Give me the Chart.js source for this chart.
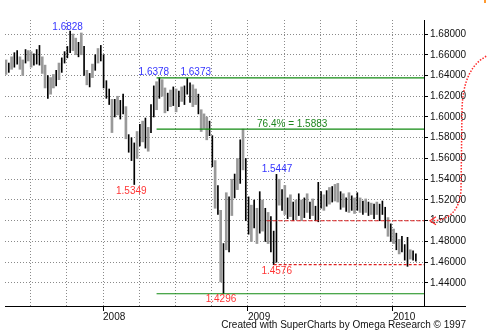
<!DOCTYPE html>
<html>
<head>
<meta charset="utf-8">
<script src="https://cdn.jsdelivr.net/npm/chart.js@4/dist/chart.umd.min.js"></script>
<style>
  html, body { margin: 0; padding: 0; background: #fff; }
  #wrap { width: 487px; height: 333px; position: relative; }
</style>
</head>
<body>
<div id="wrap"><canvas id="c" width="487" height="333"></canvas></div>
<script>
// ---- Data (weekly bars) ----
const firstWeek = 2007.331;          // decimal year of first weekly bar
const weekStep = 1 / 52;
const highs = [
  1.655,1.652,1.658,1.662,1.664,1.658,1.655,1.665,1.664,1.663,1.661,1.665,1.669,
  1.658,1.650,1.640,1.638,1.641,1.645,1.652,1.657,
  1.663,1.668,1.6828,1.680,1.676,1.672,1.681,
  1.668,1.645,1.642,1.651,1.660,1.666,1.669,
  1.660,1.635,1.627,1.617,1.617,1.620,1.616,1.622,1.610,1.583,1.580,1.575,
  1.586,1.593,1.596,1.599,1.590,1.612,1.630,1.634,1.6378,1.636,1.628,1.623,
  1.626,1.629,1.627,1.625,1.629,1.630,1.6373,1.633,1.631,1.627,1.622,
  1.607,1.603,1.600,1.596,1.582,1.558,1.534,1.510,1.478,1.527,1.523,
  1.540,1.545,1.560,1.578,1.5883,1.560,1.523,1.515,1.520,1.512,1.528,
  1.520,1.512,1.508,1.504,1.490,1.5447,1.540,1.530,1.534,1.522,1.525,
  1.518,1.520,1.526,1.520,1.522,1.526,1.518,1.521,1.514,1.537,1.528,
  1.525,1.529,1.532,1.533,1.535,1.536,1.528,1.526,1.522,1.527,1.524,
  1.522,1.527,1.522,1.519,1.521,1.518,1.517,1.516,1.518,1.516,1.519,
  1.513,1.503,1.497,1.492,1.488,1.482,1.485,1.477,1.484,1.472,1.471,1.468
];
const lows = [
  1.641,1.643,1.646,1.648,1.651,1.646,1.640,1.652,1.654,1.648,1.650,1.651,1.650,
  1.642,1.628,1.618,1.622,1.628,1.630,1.636,1.643,
  1.652,1.657,1.662,1.664,1.660,1.658,1.660,
  1.640,1.631,1.629,1.638,1.645,1.652,1.654,
  1.628,1.618,1.612,1.585,1.600,1.602,1.598,1.603,1.579,1.566,1.558,1.5349,
  1.560,1.572,1.576,1.570,1.567,1.585,1.600,1.607,1.618,1.620,1.604,1.606,
  1.610,1.611,1.605,1.610,1.615,1.612,1.622,1.614,1.610,1.612,1.603,
  1.586,1.589,1.578,1.582,1.552,1.512,1.506,1.441,1.4296,1.472,1.470,
  1.505,1.522,1.530,1.536,1.549,1.500,1.487,1.480,1.493,1.478,1.488,
  1.490,1.480,1.478,1.470,1.4576,1.460,1.515,1.510,1.506,1.502,1.504,
  1.500,1.501,1.505,1.500,1.503,1.508,1.502,1.505,1.500,1.499,1.512,
  1.510,1.514,1.516,1.518,1.519,1.518,1.511,1.513,1.509,1.508,1.510,
  1.507,1.510,1.508,1.506,1.508,1.505,1.506,1.502,1.506,1.500,1.506,
  1.493,1.485,1.480,1.478,1.472,1.468,1.470,1.462,1.456,1.463,1.462,1.461
];
// 1 = black bar, 0 = grey bar
const barShade = [
  0,1,0,1,1,0,0,1,0,0,1,1,1,
  0,0,1,0,0,1,0,1,
  1,1,1,0,0,1,0,
  1,0,1,0,1,0,1,
  1,1,1,0,1,0,1,1,0,1,1,1,
  0,1,0,1,0,1,1,0,1,0,0,1,
  0,1,0,1,0,1,1,1,0,0,1,
  0,0,0,1,1,0,1,0,1,0,1,
  0,1,0,1,0,1,1,0,1,0,1,
  0,1,0,1,1,1,0,1,0,1,0,
  1,0,1,0,1,0,1,0,1,1,1,
  0,1,0,1,0,0,1,0,1,0,1,
  0,1,0,1,0,1,0,1,0,1,1,
  1,0,1,0,1,0,1,1,1,0,1,1
];
const yTickValues = [1.44,1.46,1.48,1.50,1.52,1.54,1.56,1.58,1.60,1.62,1.64,1.66,1.68];
const quarterTicks = [2007.5,2007.75,2008,2008.25,2008.5,2008.75,2009,2009.25,2009.5,2009.75,2010];
const yearLabels = [2008, 2009, 2010];

// Levels: [value, starting bar index]
const levelGreenHigh = [1.6378, 54];
const levelFib = [1.5883, 54];
const levelGreenLow = [1.4296, 54];
const levelRed150 = [1.50, 93.5];
const levelRed1457 = [1.4576, 96];

// Price annotations: text, bar index, value
const priceNotes = [
  ['1.6828', 23, 1.6828],
  ['1.6378', 55, 1.6378],
  ['1.6373', 65, 1.6373],
  ['76.4% = 1.5883', 85, 1.5883],
  ['1.5349', 46, 1.5349],
  ['1.5447', 97, 1.5447],
  ['1.4576', 96, 1.4576],
  ['1.4296', 78, 1.4296]
];

// ---- Styling / layout ----
const X_MIN = 2007.324, X_MAX = 2010.214;
const Y_MIN = 1.4178, Y_MAX = 1.6935;
const BLUE = '#3434ff', RED = '#ff3535', GREEN = '#118a11', FIBGREEN = '#1f861f';
const noteStyle = [
  {color: BLUE, dx: -2.5, dy: -4, align: 'center'},
  {color: BLUE, dx: -5.5, dy: -6, align: 'center'},
  {color: BLUE, dx: 8.5, dy: -6, align: 'center'},
  {color: FIBGREEN, dx: 14, dy: -5, align: 'left'},
  {color: RED, dx: -3, dy: 6.5, align: 'center'},
  {color: BLUE, dx: 0.5, dy: -5.5, align: 'center'},
  {color: RED, dx: 3, dy: 7, align: 'center'},
  {color: RED, dx: -2.5, dy: 5.5, align: 'center'}
];
const FONT = '"Liberation Sans", Arial, sans-serif';

const xOf = i => firstWeek + i * weekStep;

const blackBars = [], greyBars = [];
highs.forEach((h, i) => {
  const pt = {x: xOf(i), y: [lows[i], h]};
  (barShade[i] ? blackBars : greyBars).push(pt);
});

function levelLine(level, color, dash) {
  return {
    type: 'line',
    data: [{x: xOf(level[1]), y: level[0]}, {x: X_MAX, y: level[0]}],
    borderColor: color, borderWidth: 1.2, borderDash: dash,
    pointRadius: 0, fill: false, order: 0
  };
}

const decor = {
  id: 'decor',
  afterDatasetsDraw(chart) {
    const ctx = chart.ctx, xs = chart.scales.x, ys = chart.scales.y;
    const ca = chart.chartArea;
    ctx.save();
    // bottom axis line extending past the price axis
    ctx.strokeStyle = '#000'; ctx.lineWidth = 1;
    ctx.beginPath(); ctx.moveTo(ca.left, ca.bottom + 0.5); ctx.lineTo(466, ca.bottom + 0.5); ctx.stroke();
    // price notes
    ctx.font = '10px ' + FONT;
    ctx.textBaseline = 'middle';
    priceNotes.forEach((n, k) => {
      const st = noteStyle[k];
      ctx.fillStyle = st.color;
      ctx.textAlign = st.align;
      ctx.fillText(n[0], xs.getPixelForValue(xOf(n[1])) + st.dx, ys.getPixelForValue(n[2]) + st.dy);
    });
    // footer
    ctx.fillStyle = '#111';
    ctx.textAlign = 'right';
    ctx.fillText('Created with SuperCharts by Omega Research \u00A9 1997', 466, 325);
    // red dotted arc pointing at the 1.50 level
    const y150 = ys.getPixelForValue(1.50);
    ctx.strokeStyle = '#ff2a2a'; ctx.lineWidth = 1.5; ctx.setLineDash([1.5, 1.5]);
    ctx.beginPath();
    ctx.moveTo(489, 55);
    ctx.quadraticCurveTo(463, 66, 462, 110);
    ctx.lineTo(461, 190);
    ctx.quadraticCurveTo(459, y150 - 2, 434, y150);
    ctx.stroke();
    ctx.setLineDash([]);
    ctx.lineWidth = 1.2;
    ctx.beginPath();
    ctx.moveTo(436, y150 - 4); ctx.lineTo(430, y150); ctx.lineTo(436, y150 + 4);
    ctx.stroke();
    // small orange mark top-right
    ctx.fillStyle = '#ff9a30';
    ctx.fillRect(484, 0, 2, 3);
    ctx.restore();
  }
};

new Chart(document.getElementById('c'), {
  type: 'bar',
  data: {
    datasets: [
      {data: greyBars, backgroundColor: '#999999', barThickness: 2, grouped: false, order: 2},
      {data: blackBars, backgroundColor: '#000', barThickness: 1, grouped: false, order: 1},
      levelLine(levelGreenHigh, GREEN, []),
      levelLine(levelFib, GREEN, []),
      levelLine(levelGreenLow, GREEN, []),
      levelLine(levelRed150, '#e02020', [4, 2]),
      levelLine(levelRed1457, '#e02020', [3, 2])
    ]
  },
  plugins: [decor],
  options: {
    responsive: false,
    animation: false,
    devicePixelRatio: 1,
    layout: {padding: {left: 5, top: 20, right: 0, bottom: 0}},
    plugins: {legend: {display: false}, tooltip: {enabled: false}},
    scales: {
      x: {
        type: 'linear', min: X_MIN, max: X_MAX, offset: false,
        afterBuildTicks: s => { s.ticks = quarterTicks.map(v => ({value: v})); },
        afterFit: s => { s.height = 27; },
        grid: {
          offset: false, color: '#8a8a8a', lineWidth: 1,
          tickLength: 5, tickBorderDash: [],
          tickColor: c => (yearLabels.includes(c.tick && c.tick.value) ? '#000' : 'rgba(0,0,0,0)')
        },
        border: {display: false, dash: [1, 2]},
        ticks: {
          autoSkip: false, maxRotation: 0, align: 'start', padding: 0,
          color: '#111', font: {family: FONT, size: 10},
          callback: v => (yearLabels.includes(v) ? String(v) : '')
        }
      },
      y: {
        position: 'right', min: Y_MIN, max: Y_MAX,
        afterBuildTicks: s => { s.ticks = yTickValues.map(v => ({value: v})); },
        afterFit: s => { s.width = 63; },
        grid: {color: '#8a8a8a', lineWidth: 1, tickLength: 4, tickColor: '#000', tickBorderDash: []},
        border: {display: true, color: '#000', width: 1, dash: [1, 2]},
        ticks: {
          padding: 2, color: '#111', font: {family: FONT, size: 10},
          callback: v => v.toFixed(5)
        }
      }
    }
  }
});
</script>
</body>
</html>
